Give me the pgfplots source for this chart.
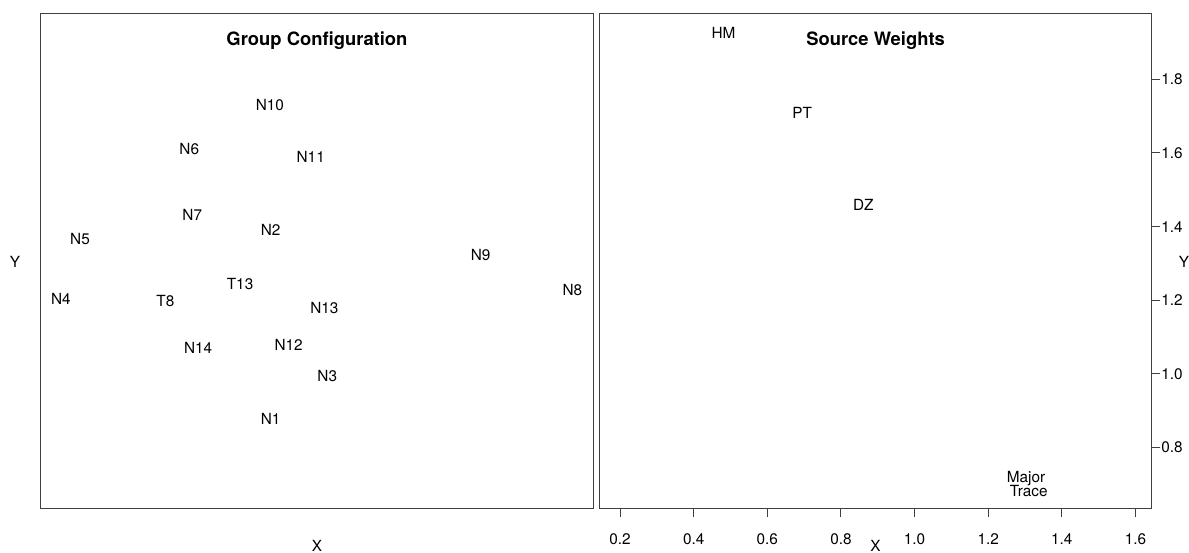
\documentclass[border=0pt]{standalone}
\usepackage{fontspec}
\setmainfont{TeX Gyre Heros}
\usepackage{pgfplots}
\pgfplotsset{compat=1.18}
\usepackage{pgfplotstable}

\pgfplotstableread{
x y label
-0.128 0.424 N10
-0.347 0.304 N6
-0.017 0.283 N11
-0.339 0.125 N7
-0.126 0.084 N2
-0.644 0.059 N5
-0.209 -0.063 T13
-0.696 -0.104 N4
-0.412 -0.108 T8
0.020 -0.127 N13
-0.323 -0.235 N14
-0.077 -0.228 N12
0.028 -0.312 N3
-0.126 -0.428 N1
0.445 0.015 N9
0.694 -0.078 N8
}\groupconf

\pgfplotstableread{
x y label
0.481 1.925 HM
0.695 1.709 PT
0.861 1.459 DZ
1.303 0.715 Major
1.310 0.683 Trace
}\sourcew

\begin{document}
\begin{tikzpicture}
\useasboundingbox (0,0) rectangle (891.75pt,414.75pt);
\pgfplotsset{
  panel/.style={scale only axis, width=414.4pt, height=370.95pt, anchor=south west,
    axis line style={black!75, line width=0.75pt}, clip=false,
    title style={at={(0.5,1)}, anchor=center, yshift=-26.2pt, font=\bfseries\fontsize{13.8}{16}\selectfont}},
  lab/.style={black, draw=none, mark=none, nodes near coords, point meta=explicit symbolic,
    nodes near coords style={anchor=center, inner sep=0pt, text=black, font=\fontsize{11.5}{13}\selectfont}},
}
\begin{axis}[panel, at={(30.53pt,33.53pt)},
  xmin=-0.7508, xmax=0.7508, ymin=-0.672, ymax=0.672,
  xtick=\empty, ytick=\empty, title={Group Configuration}]
\addplot[lab] table[x=x,y=y,meta=label]{\groupconf};
\end{axis}
\begin{axis}[panel, at={(449.48pt,33.53pt)},
  xmin=0.1437, xmax=1.6446, ymin=0.6355, ymax=1.9777,
  xtick={0.2,0.4,...,1.6}, ytick={0.8,1.0,...,1.8},
  xtick pos=lower, ytick pos=upper, xticklabel pos=lower, yticklabel pos=upper,
  tick align=outside, major tick length=6.4pt,
  tick style={black!75, line width=0.75pt},
  /pgf/number format/.cd, fixed, fixed zerofill, precision=1, assume math mode=true, /pgfplots/.cd,
  tick label style={font=\fontsize{11.5}{13}\selectfont},
  xticklabel style={anchor=north, inner sep=0pt, yshift=-12.35pt},
  yticklabel style={anchor=west, inner sep=0pt, xshift=0.6pt},
  title={Source Weights}]
\addplot[lab] table[x=x,y=y,meta=label]{\sourcew};
\end{axis}
\node[inner sep=0pt, font=\fontsize{11.5}{13}\selectfont] at (237.75pt,5.2pt) {X};
\node[inner sep=0pt, font=\fontsize{11.5}{13}\selectfont] at (656.6pt,5.2pt) {X};
\node[inner sep=0pt, font=\fontsize{11.5}{13}\selectfont] at (11.25pt,218.5pt) {Y};
\node[inner sep=0pt, font=\fontsize{11.5}{13}\selectfont] at (888pt,218pt) {Y};
\end{tikzpicture}
\end{document}
